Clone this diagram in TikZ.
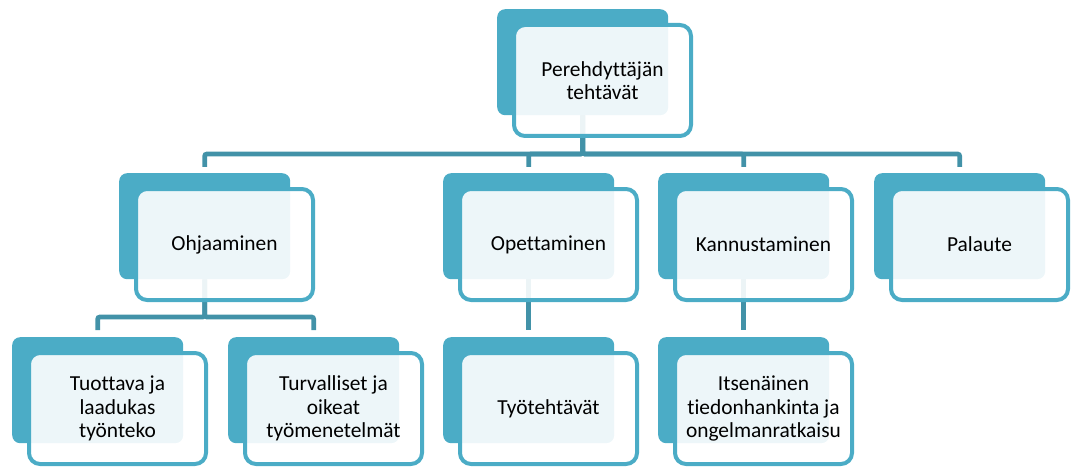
\documentclass[tikz,border=0pt]{standalone}
\usepackage{fontspec}
\setmainfont{Carlito}[Ligatures={NoCommon}]
\usetikzlibrary{backgrounds,calc}
\definecolor{teal1}{HTML}{4BACC6}
\definecolor{conncol}{HTML}{4292A8}
\tikzset{
  backbox/.style={fill=teal1, draw=none, rounded corners=8pt, minimum width=171pt, minimum height=106pt, inner sep=0pt, anchor=north west},
  frontbox/.style={draw=teal1, line width=4pt, fill=white, fill opacity=0.9, text opacity=1, rounded corners=11pt, minimum width=177pt, minimum height=111pt, inner sep=0pt, align=center, font=\fontsize{21.4}{23.5}\selectfont},
  conn/.style={draw=conncol, line width=4.6pt, rounded corners=2pt}
}
\newcommand\orgunit[4]{%
  \node[backbox] (#1b) at (#2,#3) {};
  \node[frontbox] (#1) at (#2+105.5,#3+71.5) {#4};
}
\begin{document}
\begin{tikzpicture}[x=1pt,y=-1pt]
\useasboundingbox (0,0) rectangle (1071,468);
\orgunit{top}{497}{9}{Perehdyttäjän\\tehtävät}
\orgunit{ohj}{119}{173}{Ohjaaminen}
\orgunit{opet}{443}{173}{Opettaminen}
\orgunit{kann}{658}{173}{Kannustaminen}
\orgunit{pal}{874}{173}{Palaute}
\orgunit{tuo}{12}{337}{Tuottava ja\\laadukas\\työnteko}
\orgunit{turv}{228}{337}{Turvalliset ja\\oikeat\\työmenetelmät}
\orgunit{tyo}{443}{337}{Työtehtävät}
\orgunit{itse}{658}{337}{Itsenäinen\\tiedonhankinta ja\\ongelmanratkaisu}
\begin{scope}[on background layer]
\foreach \c in {ohjb,opetb,kannb,palb}{
  \draw[conn] (topb.south) -- (topb.south |- 0,154) -| ($(\c.north)+(0,-6)$);
}
\foreach \c in {tuob,turvb}{
  \draw[conn] (ohjb.south) -- (ohjb.south |- 0,317) -| ($(\c.north)+(0,-7)$);
}
\draw[conn] (opetb.south) -- ($(tyob.north)+(0,-7)$);
\draw[conn] (kannb.south) -- ($(itseb.north)+(0,-7)$);
\end{scope}
\end{tikzpicture}
\end{document}
